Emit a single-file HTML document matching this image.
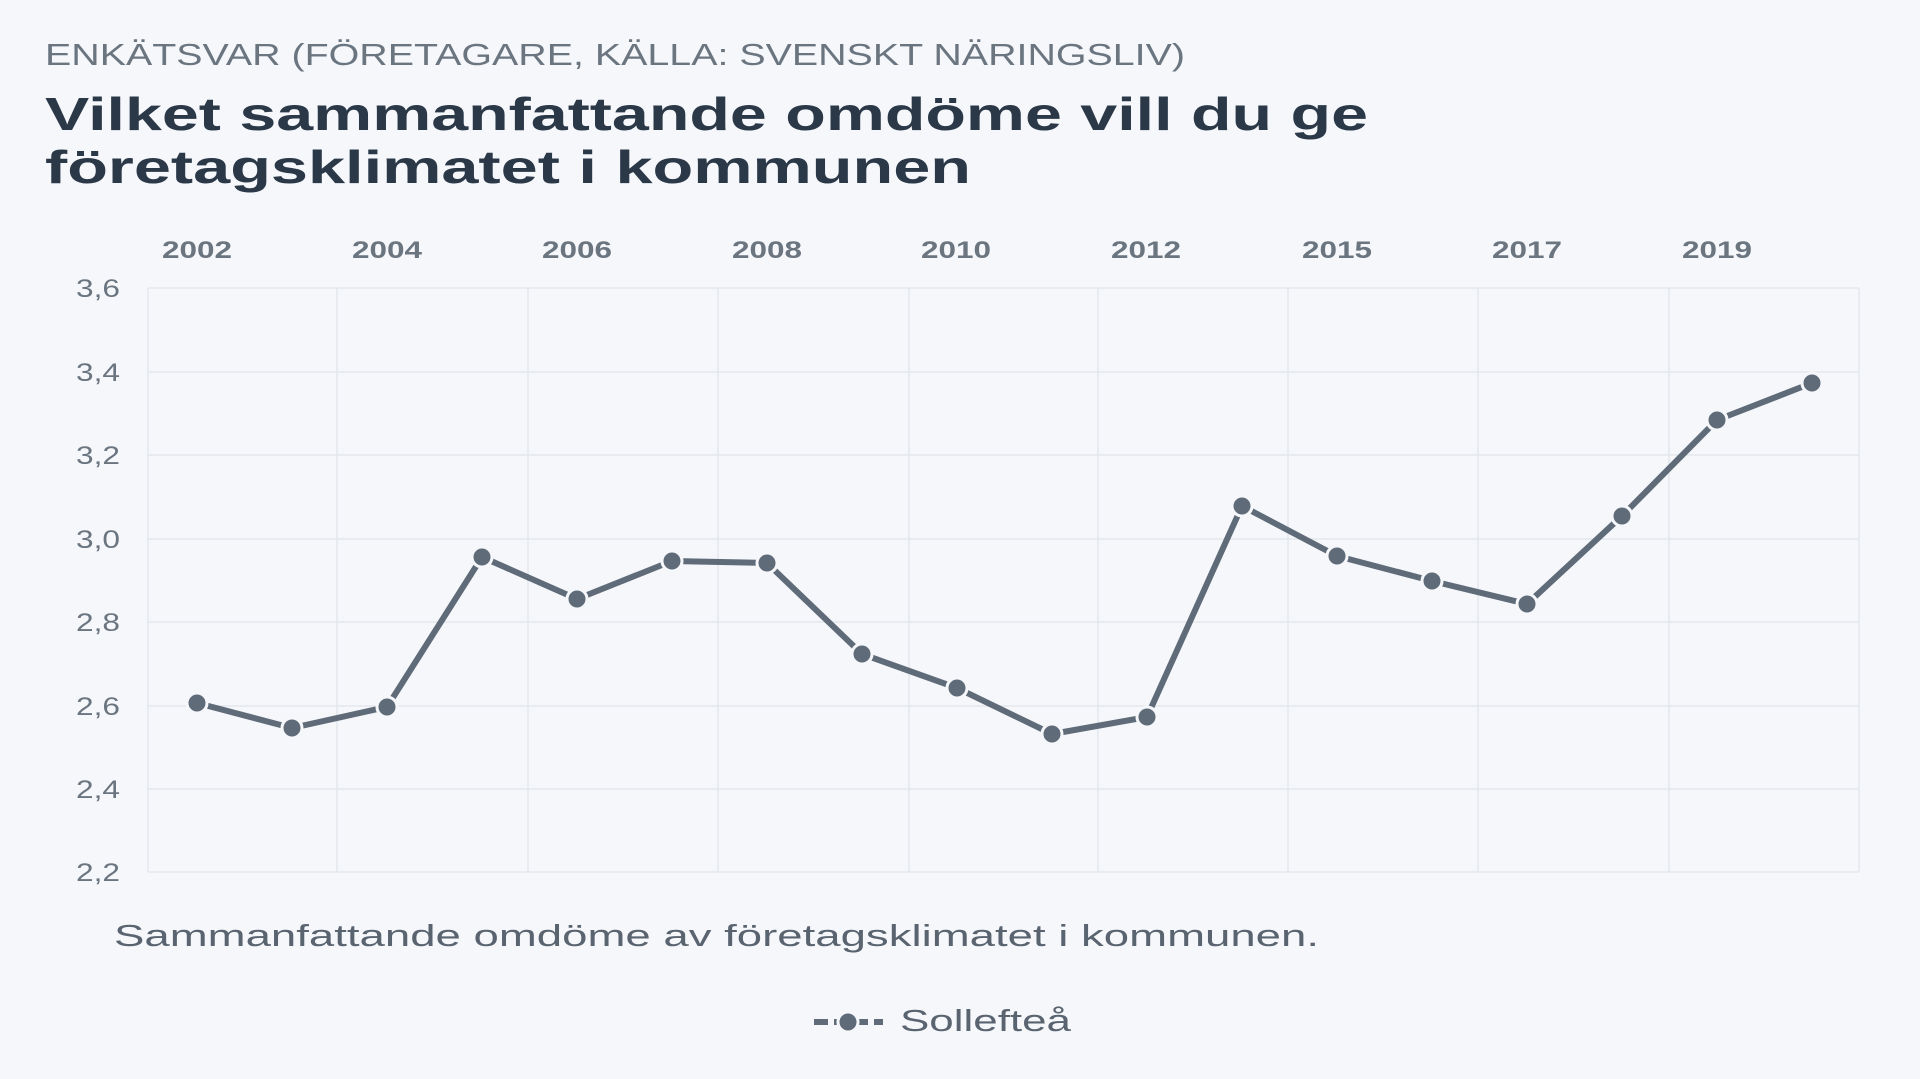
<!DOCTYPE html>
<html><head><meta charset="utf-8"><style>
html,body{margin:0;padding:0;background:#f5f7fb;}
body{width:1920px;height:1079px;overflow:hidden;position:relative;font-family:"Liberation Sans","DejaVu Sans",sans-serif;}
</style></head><body>
<svg width="1920" height="1079" viewBox="0 0 1920 1079" xmlns="http://www.w3.org/2000/svg" style="position:absolute;left:0;top:0">
<rect width="1920" height="1079" fill="#f5f7fb"/>
<text x="45" y="65" font-family="Liberation Sans, sans-serif" font-size="31" fill="#6b7580" textLength="1140" lengthAdjust="spacingAndGlyphs">ENKÄTSVAR (FÖRETAGARE, KÄLLA: SVENSKT NÄRINGSLIV)</text>
<text x="45" y="130" font-family="Liberation Sans, sans-serif" font-size="46" font-weight="bold" fill="#2b3848" textLength="1323" lengthAdjust="spacingAndGlyphs">Vilket sammanfattande omdöme vill du ge</text>
<text x="45" y="183" font-family="Liberation Sans, sans-serif" font-size="46" font-weight="bold" fill="#2b3848" textLength="926" lengthAdjust="spacingAndGlyphs">företagsklimatet i kommunen</text>
<g stroke="#e4e7eb" stroke-width="1.5" fill="none">
<line x1="148" y1="288" x2="1859" y2="288"/><line x1="148" y1="372" x2="1859" y2="372"/><line x1="148" y1="455" x2="1859" y2="455"/><line x1="148" y1="539" x2="1859" y2="539"/><line x1="148" y1="622" x2="1859" y2="622"/><line x1="148" y1="706" x2="1859" y2="706"/><line x1="148" y1="789" x2="1859" y2="789"/><line x1="148" y1="872" x2="1859" y2="872"/>
<line x1="148" y1="288" x2="148" y2="872"/><line x1="337" y1="288" x2="337" y2="872"/><line x1="528" y1="288" x2="528" y2="872"/><line x1="718" y1="288" x2="718" y2="872"/><line x1="909" y1="288" x2="909" y2="872"/><line x1="1098" y1="288" x2="1098" y2="872"/><line x1="1288" y1="288" x2="1288" y2="872"/><line x1="1478" y1="288" x2="1478" y2="872"/><line x1="1669" y1="288" x2="1669" y2="872"/><line x1="1859" y1="288" x2="1859" y2="872"/>
</g>
<g font-family="Liberation Sans, sans-serif" font-size="25" fill="#6b7580">
<text x="76" y="297" textLength="44" lengthAdjust="spacingAndGlyphs">3,6</text><text x="76" y="381" textLength="44" lengthAdjust="spacingAndGlyphs">3,4</text><text x="76" y="464" textLength="44" lengthAdjust="spacingAndGlyphs">3,2</text><text x="76" y="548" textLength="44" lengthAdjust="spacingAndGlyphs">3,0</text><text x="76" y="631" textLength="44" lengthAdjust="spacingAndGlyphs">2,8</text><text x="76" y="715" textLength="44" lengthAdjust="spacingAndGlyphs">2,6</text><text x="76" y="798" textLength="44" lengthAdjust="spacingAndGlyphs">2,4</text><text x="76" y="881" textLength="44" lengthAdjust="spacingAndGlyphs">2,2</text>
</g>
<g font-family="Liberation Sans, sans-serif" font-size="24" font-weight="bold" fill="#6b7580">
<text x="162" y="258" textLength="70" lengthAdjust="spacingAndGlyphs">2002</text><text x="352" y="258" textLength="70" lengthAdjust="spacingAndGlyphs">2004</text><text x="542" y="258" textLength="70" lengthAdjust="spacingAndGlyphs">2006</text><text x="732" y="258" textLength="70" lengthAdjust="spacingAndGlyphs">2008</text><text x="921" y="258" textLength="70" lengthAdjust="spacingAndGlyphs">2010</text><text x="1111" y="258" textLength="70" lengthAdjust="spacingAndGlyphs">2012</text><text x="1302" y="258" textLength="70" lengthAdjust="spacingAndGlyphs">2015</text><text x="1492" y="258" textLength="70" lengthAdjust="spacingAndGlyphs">2017</text><text x="1682" y="258" textLength="70" lengthAdjust="spacingAndGlyphs">2019</text>
</g>
<polyline fill="none" stroke="#5f6b78" stroke-width="6" stroke-linejoin="round" points="197,703 292,728 387,707 482,557 577,599 672,561 767,563 862,654 957,688 1052,734 1147,717 1242,506 1337,556 1432,581 1527,604 1622,516 1717,420 1812,383"/>
<g fill="#5f6b78" stroke="#f5f7fb" stroke-width="3">
<circle cx="197" cy="703" r="10"/><circle cx="292" cy="728" r="10"/><circle cx="387" cy="707" r="10"/><circle cx="482" cy="557" r="10"/><circle cx="577" cy="599" r="10"/><circle cx="672" cy="561" r="10"/><circle cx="767" cy="563" r="10"/><circle cx="862" cy="654" r="10"/><circle cx="957" cy="688" r="10"/><circle cx="1052" cy="734" r="10"/><circle cx="1147" cy="717" r="10"/><circle cx="1242" cy="506" r="10"/><circle cx="1337" cy="556" r="10"/><circle cx="1432" cy="581" r="10"/><circle cx="1527" cy="604" r="10"/><circle cx="1622" cy="516" r="10"/><circle cx="1717" cy="420" r="10"/><circle cx="1812" cy="383" r="10"/>
</g>
<text x="114" y="946" font-family="Liberation Sans, sans-serif" font-size="31" fill="#5a6470" textLength="1205" lengthAdjust="spacingAndGlyphs">Sammanfattande omdöme av företagsklimatet i kommunen.</text>
<line x1="814" y1="1022" x2="883" y2="1022" stroke="#5f6b78" stroke-width="6" stroke-dasharray="14,6"/>
<circle cx="848" cy="1022" r="10" fill="#5f6b78" stroke="#f5f7fb" stroke-width="3"/>
<text x="900" y="1031" font-family="Liberation Sans, sans-serif" font-size="31" fill="#5a6470" textLength="171" lengthAdjust="spacingAndGlyphs">Sollefteå</text>
</svg>
</body></html>
